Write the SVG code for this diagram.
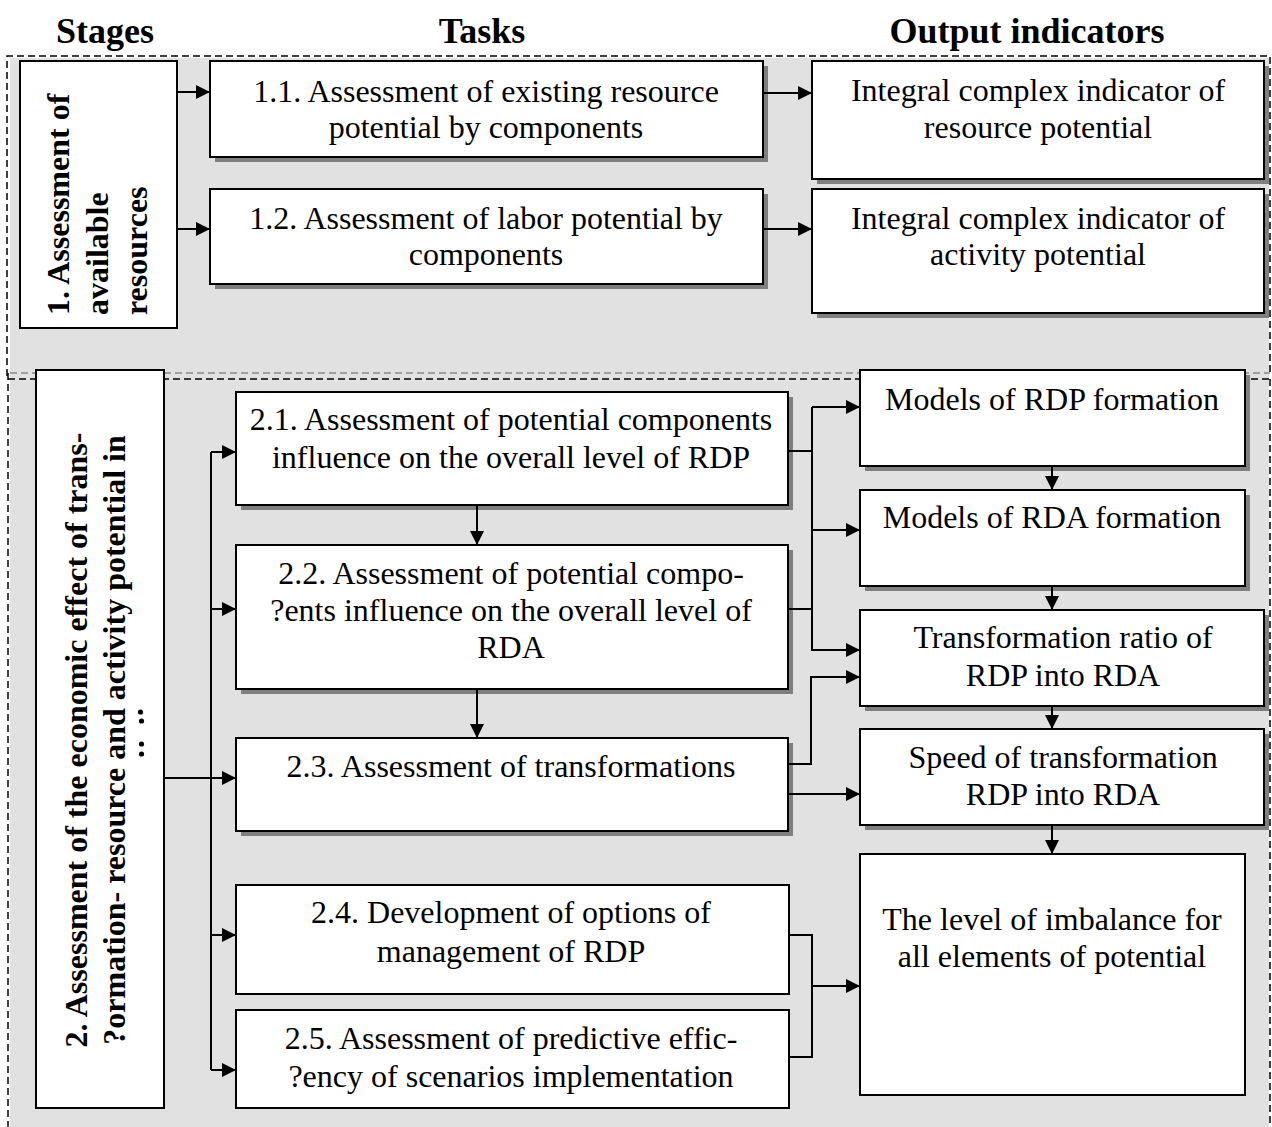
<svg xmlns="http://www.w3.org/2000/svg" width="1272" height="1127" viewBox="0 0 1272 1127">
<defs>
<marker id="ah" markerUnits="userSpaceOnUse" markerWidth="14" markerHeight="14" refX="14" refY="7" orient="auto">
<path d="M0,0 L14,7 L0,14 z" fill="#000"/>
</marker>
<style>
.bx{fill:#fff;stroke:#000;stroke-width:2}
.sh{fill:#7f7f7f}
.t{font-family:"Liberation Serif","Times New Roman",serif;font-size:32px;fill:#000;text-anchor:middle}
.h{font-family:"Liberation Serif","Times New Roman",serif;font-size:36px;font-weight:bold;fill:#000;text-anchor:middle}
.s{font-family:"Liberation Serif","Times New Roman",serif;font-size:32px;font-weight:bold;fill:#000}
.c{fill:none;stroke:#000;stroke-width:2}
.a{fill:none;stroke:#000;stroke-width:2;marker-end:url(#ah)}
.d{fill:none;stroke:#000;stroke-width:1.5;stroke-dasharray:7 4}
.dg{fill:none;stroke:#8a8a8a;stroke-width:1.5;stroke-dasharray:7 4}
</style>
</defs>
<rect width="1272" height="1127" fill="#fff"/>
<g id="background">
<rect x="10" y="58" width="1259" height="1069" fill="#e1e1e1"/>
<path class="d" d="M7,376 V56 H1270 V376"/>
<path class="dg" d="M10,373 H1270"/>
<path class="d" d="M8,379 H1270 M8,373 V1127 M1270,379 V1127"/>
</g>
<g id="headers">
<text class="h" x="105" y="43">Stages</text>
<text class="h" x="482" y="43">Tasks</text>
<text class="h" x="1027" y="43">Output indicators</text>
</g>
<g id="stage1">
<rect class="bx" x="20" y="61" width="157" height="267"/>
<text class="s" transform="translate(69,315) rotate(-90)">1. Assessment of</text>
<text class="s" transform="translate(108,315) rotate(-90)">available</text>
<text class="s" transform="translate(147,315) rotate(-90)">resources</text>
</g>
<g id="stage2">
<rect class="bx" x="36" y="370" width="128" height="738"/>
<text class="s" text-anchor="middle" transform="translate(87,740) rotate(-90)">2. Assessment of the economic effect of trans-</text>
<text class="s" text-anchor="middle" transform="translate(125,740) rotate(-90)">?ormation- resource and activity potential in</text>
<circle cx="140.5" cy="712" r="2.6"/>
<circle cx="141.5" cy="721" r="2.6"/>
<circle cx="141.5" cy="744" r="2.6"/>
<circle cx="141.5" cy="754" r="2.6"/>
</g>
<g id="task11">
<rect class="sh" x="215" y="66" width="553" height="96"/>
<rect class="bx" x="210" y="61" width="553" height="96"/>
<text class="t" x="486" y="102">1.1. Assessment of existing resource</text>
<text class="t" x="486" y="138">potential by components</text>
</g>
<g id="task12">
<rect class="sh" x="215" y="194" width="553" height="95"/>
<rect class="bx" x="210" y="189" width="553" height="95"/>
<text class="t" x="486" y="229">1.2. Assessment of labor potential by</text>
<text class="t" x="486" y="265">components</text>
</g>
<g id="out1">
<rect class="sh" x="817" y="66" width="452" height="118"/>
<rect class="bx" x="812" y="61" width="452" height="118"/>
<text class="t" x="1038" y="101">Integral complex indicator of</text>
<text class="t" x="1038" y="138">resource potential</text>
</g>
<g id="out2">
<rect class="sh" x="817" y="194" width="452" height="124"/>
<rect class="bx" x="812" y="189" width="452" height="124"/>
<text class="t" x="1038" y="229">Integral complex indicator of</text>
<text class="t" x="1038" y="265">activity potential</text>
</g>
<g id="task21">
<rect class="sh" x="241" y="397" width="552" height="113"/>
<rect class="bx" x="236" y="392" width="552" height="113"/>
<text class="t" x="511" y="430">2.1. Assessment of potential components</text>
<text class="t" x="511" y="468">influence on the overall level of RDP</text>
</g>
<g id="task22">
<rect class="sh" x="241" y="550" width="552" height="144"/>
<rect class="bx" x="236" y="545" width="552" height="144"/>
<text class="t" x="511" y="584">2.2. Assessment of potential compo-</text>
<text class="t" x="511" y="621">?ents influence on the overall level of</text>
<text class="t" x="511" y="658">RDA</text>
</g>
<g id="task23">
<rect class="sh" x="241" y="743" width="552" height="93"/>
<rect class="bx" x="236" y="738" width="552" height="93"/>
<text class="t" x="511" y="777">2.3. Assessment of transformations</text>
</g>
<g id="task24">
<rect class="bx" x="236" y="885" width="553" height="109"/>
<text class="t" x="511" y="923">2.4. Development of options of</text>
<text class="t" x="511" y="962">management of RDP</text>
</g>
<g id="task25">
<rect class="bx" x="236" y="1010" width="553" height="98"/>
<text class="t" x="511" y="1049">2.5. Assessment of predictive effic-</text>
<text class="t" x="511" y="1087">?ency of scenarios implementation</text>
</g>
<g id="outRDP">
<rect class="sh" x="865" y="375" width="385" height="96"/>
<rect class="bx" x="860" y="370" width="385" height="96"/>
<text class="t" x="1052" y="410">Models of RDP formation</text>
</g>
<g id="outRDA">
<rect class="sh" x="865" y="495" width="385" height="96"/>
<rect class="bx" x="860" y="490" width="385" height="96"/>
<text class="t" x="1052" y="528">Models of RDA formation</text>
</g>
<g id="outRatio">
<rect class="sh" x="865" y="615" width="404" height="96"/>
<rect class="bx" x="860" y="610" width="404" height="96"/>
<text class="t" x="1063" y="648">Transformation ratio of</text>
<text class="t" x="1063" y="686">RDP into RDA</text>
</g>
<g id="outSpeed">
<rect class="sh" x="865" y="734" width="404" height="96"/>
<rect class="bx" x="860" y="729" width="404" height="96"/>
<text class="t" x="1063" y="768">Speed of transformation</text>
<text class="t" x="1063" y="805">RDP into RDA</text>
</g>
<g id="outImbalance">
<rect class="bx" x="860" y="854" width="385" height="241"/>
<text class="t" x="1052" y="930">The level of imbalance for</text>
<text class="t" x="1052" y="967">all elements of potential</text>
</g>
<g id="connectors">
<path class="a" d="M177,92 H210"/>
<path class="a" d="M177,229 H210"/>
<path class="a" d="M763,93 H812"/>
<path class="a" d="M763,229 H812"/>
<path class="a" d="M164,778 H236"/>
<path class="c" d="M211,452 V1070"/>
<path class="a" d="M211,452 H236"/>
<path class="a" d="M211,609 H236"/>
<path class="a" d="M211,935 H236"/>
<path class="a" d="M211,1070 H236"/>
<path class="a" d="M477,506 V545"/>
<path class="a" d="M477,689 V738"/>
<path class="c" d="M788,451 H812 M788,609 H812 M812,407 V651"/>
<path class="a" d="M812,407 H860"/>
<path class="a" d="M812,530 H860"/>
<path class="a" d="M812,650 H860"/>
<path class="a" d="M788,764 H811 V677 H860"/>
<path class="a" d="M788,794 H860"/>
<path class="a" d="M1052,466 V490"/>
<path class="a" d="M1052,586 V610"/>
<path class="a" d="M1052,706 V729"/>
<path class="a" d="M1052,825 V854"/>
<path class="c" d="M789,935 H812 V1057 H789"/>
<path class="a" d="M812,986 H860"/>
</g>
</svg>
